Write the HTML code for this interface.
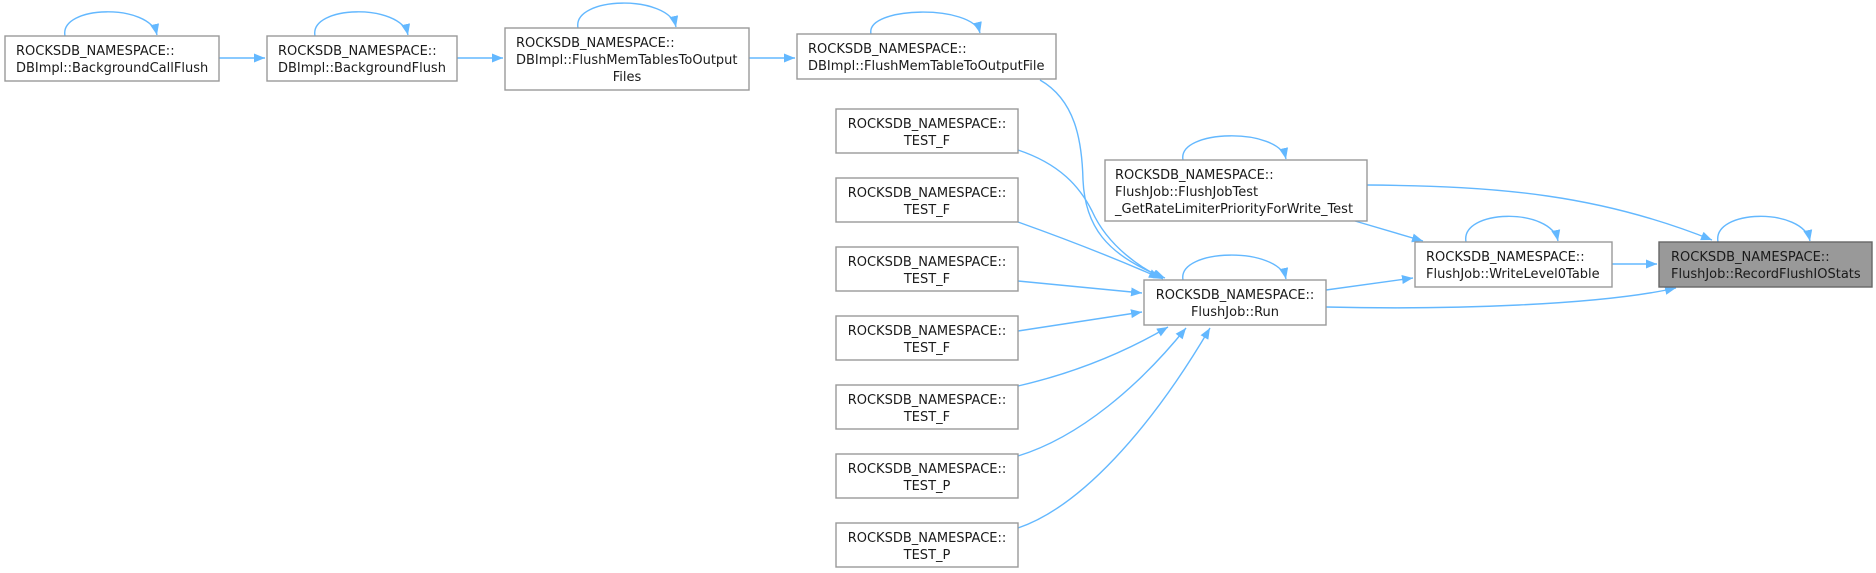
<!DOCTYPE html>
<html><head><meta charset="utf-8"><style>
html,body{margin:0;padding:0;background:#fff;width:1876px;height:573px;overflow:hidden}
svg{display:block}
text{font-family:"DejaVu Sans","Liberation Sans",sans-serif;font-size:13px;fill:#1a1a1a}
.b{fill:#fff;stroke:#999;stroke-width:1.4}
.e{fill:none;stroke:#63b8ff;stroke-width:1.4;marker-end:url(#a)}
</style></head><body>
<svg width="1876" height="573" viewBox="0 0 1876 573" xmlns="http://www.w3.org/2000/svg">
<defs><marker id="a" markerUnits="userSpaceOnUse" markerWidth="12" markerHeight="10" refX="11" refY="4.5" orient="auto"><path d="M0,0 L11,4.5 L0,9 z" fill="#63b8ff"/></marker></defs>

<path class="e" d="M219,58 L265,58"/>
<path class="e" d="M457,58 L503,58"/>
<path class="e" d="M749,58 L795,58"/>
<path class="e" d="M1040,80 C1075,100 1082,140 1083,180 C1085,225 1105,255 1165,278"/>
<path class="e" d="M1018,150 C1060,164 1080,187 1092,211 C1105,240 1130,262 1163,279"/>
<path class="e" d="M1018,222 C1060,237 1110,256 1160,278"/>
<path class="e" d="M1018,281 L1142,293"/>
<path class="e" d="M1018,331 L1142,312"/>
<path class="e" d="M1018,386 C1070,374 1120,355 1168,327"/>
<path class="e" d="M1018,456 C1080,437 1140,385 1186,328"/>
<path class="e" d="M1018,528 C1080,507 1150,430 1210,328"/>
<path class="e" d="M1355,221 L1423,241"/>
<path class="e" d="M1367,185 C1500,186 1600,195 1712,240"/>
<path class="e" d="M1326,290 L1413,278"/>
<path class="e" d="M1612,264 L1657,264"/>
<path class="e" d="M1326,307 C1450,310 1600,305 1676,288"/>

<path class="e" d="M65,36 C59,5 150,3 157,35"/>
<path class="e" d="M315,36 C309,5 401,3 408,35"/>
<path class="e" d="M578,28 C572,-4 669,-6 676,27"/>
<path class="e" d="M871,34 C865,6 973,4 980,33"/>
<path class="e" d="M1183,160 C1177,129 1279,127 1286,159"/>
<path class="e" d="M1183,280 C1177,248 1279,246 1286,279"/>
<path class="e" d="M1466,242 C1460,209 1551,207 1558,241"/>
<path class="e" d="M1718,242 C1712,209 1803,207 1810,241"/>

<rect class="b" x="5" y="36" width="214" height="45"/>
<text x="16" y="55">ROCKSDB_NAMESPACE::</text><text x="16" y="72">DBImpl::BackgroundCallFlush</text>

<rect class="b" x="267" y="36" width="190" height="45"/>
<text x="278" y="55">ROCKSDB_NAMESPACE::</text><text x="278" y="72">DBImpl::BackgroundFlush</text>

<rect class="b" x="505" y="28" width="244" height="62"/>
<text x="516" y="47">ROCKSDB_NAMESPACE::</text><text x="516" y="64">DBImpl::FlushMemTablesToOutput</text><text x="627" y="81" text-anchor="middle">Files</text>

<rect class="b" x="797" y="34" width="259" height="45"/>
<text x="808" y="53">ROCKSDB_NAMESPACE::</text><text x="808" y="70">DBImpl::FlushMemTableToOutputFile</text>

<rect class="b" x="836" y="109" width="182" height="44"/>
<text x="927" y="128" text-anchor="middle">ROCKSDB_NAMESPACE::</text><text x="927" y="145" text-anchor="middle">TEST_F</text>
<rect class="b" x="836" y="178" width="182" height="44"/>
<text x="927" y="197" text-anchor="middle">ROCKSDB_NAMESPACE::</text><text x="927" y="214" text-anchor="middle">TEST_F</text>
<rect class="b" x="836" y="247" width="182" height="44"/>
<text x="927" y="266" text-anchor="middle">ROCKSDB_NAMESPACE::</text><text x="927" y="283" text-anchor="middle">TEST_F</text>
<rect class="b" x="836" y="316" width="182" height="44"/>
<text x="927" y="335" text-anchor="middle">ROCKSDB_NAMESPACE::</text><text x="927" y="352" text-anchor="middle">TEST_F</text>
<rect class="b" x="836" y="385" width="182" height="44"/>
<text x="927" y="404" text-anchor="middle">ROCKSDB_NAMESPACE::</text><text x="927" y="421" text-anchor="middle">TEST_F</text>
<rect class="b" x="836" y="454" width="182" height="44"/>
<text x="927" y="473" text-anchor="middle">ROCKSDB_NAMESPACE::</text><text x="927" y="490" text-anchor="middle">TEST_P</text>
<rect class="b" x="836" y="523" width="182" height="44"/>
<text x="927" y="542" text-anchor="middle">ROCKSDB_NAMESPACE::</text><text x="927" y="559" text-anchor="middle">TEST_P</text>

<rect class="b" x="1105" y="160" width="262" height="61"/>
<text x="1115" y="179">ROCKSDB_NAMESPACE::</text><text x="1115" y="196">FlushJob::FlushJobTest</text><text x="1115" y="213">_GetRateLimiterPriorityForWrite_Test</text>

<rect class="b" x="1144" y="280" width="182" height="45"/>
<text x="1235" y="299" text-anchor="middle">ROCKSDB_NAMESPACE::</text><text x="1235" y="316" text-anchor="middle">FlushJob::Run</text>

<rect class="b" x="1415" y="242" width="197" height="45"/>
<text x="1426" y="261">ROCKSDB_NAMESPACE::</text><text x="1426" y="278">FlushJob::WriteLevel0Table</text>

<rect x="1659" y="242" width="213" height="45" fill="#999" stroke="#666" stroke-width="1.4"/>
<text x="1671" y="261">ROCKSDB_NAMESPACE::</text><text x="1671" y="278">FlushJob::RecordFlushIOStats</text>
</svg>
</body></html>
